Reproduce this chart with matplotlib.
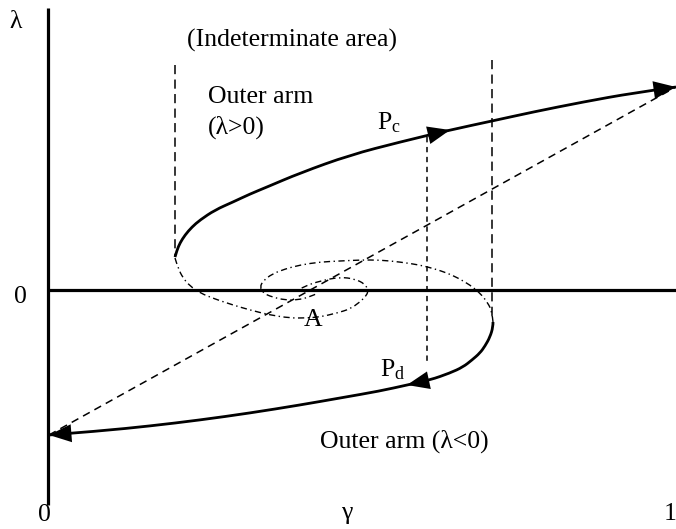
import matplotlib
matplotlib.use("Agg")
import matplotlib.pyplot as plt
from matplotlib.patches import FancyArrowPatch, PathPatch
from matplotlib.path import Path

plt.rcParams['font.family'] = ['Liberation Serif', 'DejaVu Serif']
plt.rcParams['mathtext.fontset'] = 'custom'
plt.rcParams['mathtext.rm'] = 'Liberation Serif'
plt.rcParams['mathtext.it'] = 'Liberation Serif'

# ---- data (gamma, lambda) ----
upper_gamma = [0.2065, 0.2098, 0.2146, 0.2228, 0.2341, 0.2472, 0.2715, 0.3008, 0.3285,
               0.3561, 0.4098, 0.4911, 0.5724, 0.6537, 0.7220, 0.7886, 0.8699, 0.9512, 1.0211]
upper_lambda = [0.165, 0.20, 0.235, 0.275, 0.315, 0.35, 0.40, 0.44, 0.48,
                0.515, 0.585, 0.675, 0.74, 0.80, 0.845, 0.89, 0.94, 0.985, 1.015]

lower_gamma = [0.7236, 0.7236, 0.7187, 0.7106, 0.7024, 0.6894, 0.6748, 0.6537, 0.6211,
               0.5837, 0.5398, 0.4748, 0.4098, 0.3285, 0.2472, 0.1659, 0.0846, 0.0016]
lower_lambda = [-0.16, -0.185, -0.235, -0.28, -0.315, -0.35, -0.385, -0.415, -0.45,
                -0.475, -0.505, -0.54, -0.575, -0.615, -0.65, -0.68, -0.705, -0.725]

spiral1_gamma = [0.2065, 0.2114, 0.2195, 0.2309, 0.2472, 0.2715, 0.3008, 0.3285, 0.3610,
                 0.3935, 0.4179, 0.4423, 0.4699, 0.4911, 0.5073, 0.5187, 0.5203, 0.5154,
                 0.4992, 0.4748, 0.4423, 0.4179, 0.4065]
spiral1_lambda = [0.16, 0.11, 0.06, 0.02, -0.015, -0.045, -0.075, -0.10, -0.125,
                  -0.14, -0.14, -0.135, -0.115, -0.095, -0.06, -0.025, 0.0, 0.03,
                  0.055, 0.065, 0.045, 0.02, 0.0]

spiral2_gamma = [0.7236, 0.7220, 0.7154, 0.7024, 0.6862, 0.6667, 0.6488, 0.6293, 0.6049,
                 0.5724, 0.5398, 0.5073, 0.4748, 0.4423, 0.4098, 0.3854, 0.3642, 0.3496,
                 0.3447, 0.3496, 0.3642, 0.3854, 0.4049, 0.4260, 0.4390]
spiral2_lambda = [-0.16, -0.11, -0.065, -0.015, 0.025, 0.06, 0.085, 0.105, 0.125,
                  0.14, 0.15, 0.15, 0.145, 0.14, 0.125, 0.105, 0.08, 0.045,
                  0.015, -0.015, -0.035, -0.05, -0.05, -0.035, -0.015]

diag_gamma = [0.0016, 1.0211]
diag_lambda = [-0.725, 1.015]

left_bound_gamma = 0.2065
left_bound_lambda = [1.125, 0.165]
right_bound_gamma = 0.7220
right_bound_lambda = [1.15, -0.14]
pcpd_gamma = 0.6163
pcpd_lambda = [0.765, -0.365]

axis_lambda = [1.41, -1.075]
axis_gamma = [0.0, 1.0211]

# ---- figure ----
fig = plt.figure(figsize=(6.76, 5.29), dpi=100)
ax = fig.add_axes([0, 0, 1, 1])
ax.set_xlim(-48 / 615, 628 / 615)
ax.set_ylim(-239 / 200, 290 / 200)
ax.axis('off')


def px(x, y):
    return (x - 48) / 615, (290 - y) / 200


def smooth(gx, gy, **kw):
    pts = list(zip(gx, gy))
    verts = [pts[0]]
    codes = [Path.MOVETO]
    for i in range(1, len(pts) - 1):
        mid = ((pts[i][0] + pts[i + 1][0]) / 2, (pts[i][1] + pts[i + 1][1]) / 2)
        if i == len(pts) - 2:
            mid = pts[-1]
        verts += [pts[i], mid]
        codes += [Path.CURVE3, Path.CURVE3]
    ax.add_patch(PathPatch(Path(verts, codes), fill=False, **kw))


# axes lines
ax.plot([0, 0], axis_lambda, color='black', lw=2.3, solid_capstyle='butt')
ax.plot(axis_gamma, [0, 0], color='black', lw=2.3, solid_capstyle='butt')

# solid arms
smooth(upper_gamma, upper_lambda, color='black', lw=2.0)
smooth(lower_gamma, lower_lambda, color='black', lw=2.0)

# dash-dot spirals
smooth(spiral1_gamma, spiral1_lambda, color='black', lw=1.0, linestyle=(0, (4.5, 2.5, 1, 2.5)))
smooth(spiral2_gamma, spiral2_lambda, color='black', lw=1.0, linestyle=(0, (4.5, 2.5, 1, 2.5)))

# dashed lines
ax.plot(diag_gamma, diag_lambda, color='black', lw=1.1, dashes=(5, 3.5))
ax.plot([left_bound_gamma] * 2, left_bound_lambda, color='black', lw=1.1, dashes=(6, 3.5))
ax.plot([right_bound_gamma] * 2, right_bound_lambda, color='black', lw=1.1, dashes=(6, 3.5))
ax.plot([pcpd_gamma] * 2, pcpd_lambda, color='black', lw=1.1, dashes=(3.5, 3))


def head(gx, gy, i, j):
    arr = FancyArrowPatch((gx[j], gy[j]), (gx[i], gy[i]),
                          arrowstyle='-|>,head_length=0.95,head_width=0.38',
                          mutation_scale=17, color='black', lw=0,
                          shrinkA=0, shrinkB=0)
    ax.add_patch(arr)


head(upper_gamma, upper_lambda, 13, 12)
head(upper_gamma, upper_lambda, len(upper_gamma) - 1, len(upper_gamma) - 2)
head(lower_gamma, lower_lambda, 9, 8)
head(lower_gamma, lower_lambda, len(lower_gamma) - 1, len(lower_gamma) - 2)

fs = 18.5
ax.text(*px(16, 22), 'λ', fontsize=fs, ha='center', va='center')
ax.text(*px(20, 297), '0', fontsize=fs, ha='center', va='center')
ax.text(*px(44, 515), '0', fontsize=fs, ha='center', va='center')
ax.text(*px(347, 513), 'γ', fontsize=fs, ha='center', va='center')
ax.text(*px(670, 514), '1', fontsize=fs, ha='center', va='center')
ax.text(*px(187, 40), '(Indeterminate area)', fontsize=fs, ha='left', va='center')
ax.text(*px(208, 97), 'Outer arm', fontsize=fs, ha='left', va='center')
ax.text(*px(208, 127), '(λ>0)', fontsize=fs, ha='left', va='center')
ax.text(*px(320, 441), 'Outer arm (λ<0)', fontsize=fs, ha='left', va='center')
ax.text(*px(377, 123), r'P$_{\mathrm{c}}$', fontsize=fs, ha='left', va='center')
ax.text(*px(380, 370), r'P$_{\mathrm{d}}$', fontsize=fs, ha='left', va='center')
ax.text(*px(313, 320), 'A', fontsize=fs, ha='center', va='center')

fig.savefig('out.png', dpi=100)
